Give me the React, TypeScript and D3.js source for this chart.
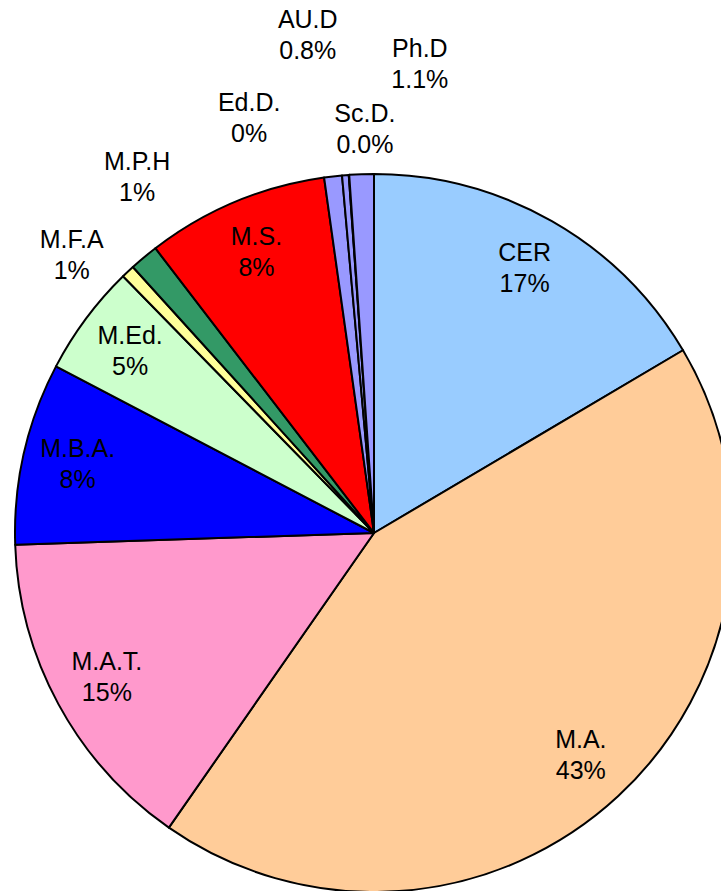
import React from 'react';
import * as d3 from 'd3';

// Degree shares (percent of the whole)
const categories = ['CER', 'M.A.', 'M.A.T.', 'M.B.A.', 'M.Ed.', 'M.F.A', 'M.P.H', 'M.S.', 'AU.D', 'Ed.D.', 'Sc.D.', 'Ph.D'];
const values = [16.5, 43.18, 14.8, 8.2, 5.0, 0.6, 1.3, 8.2, 0.8, 0.3, 0.02, 1.1];
const pctLabels = ['17%', '43%', '15%', '8%', '5%', '1%', '1%', '8%', '0.8%', '0%', '0.0%', '1.1%'];
const colors = ['#99CCFF', '#FFCC99', '#FF99CC', '#0000FF', '#CCFFCC', '#FFFF99', '#339966', '#FF0000', '#9999FF', '#9999FF', '#9999FF', '#9999FF'];

// Labels pushed outside the pie: [radius, angle in degrees clockwise from 12 o'clock]
const outsideLabels: Record<string, [number, number]> = {
  'M.F.A': [410, 312.5],
  'M.P.H': [427, 326.3],
  'Ed.D.': [432, 343.2],
  'Sc.D.': [403, 358.7],
  'AU.D': [501, 352.4],
  'Ph.D': [470, 5.6],
};

const width = 721;
const height = 891;
const cx = 374;
const cy = 533;
const radius = 359;
const labelRadius = 304;

export default function App() {
  const pie = d3.pie<number>().sort(null).value((d) => d);
  const arcs = pie(values);
  const arc = d3.arc<d3.PieArcDatum<number>>().innerRadius(0).outerRadius(radius);
  const labelArc = d3.arc<d3.PieArcDatum<number>>().innerRadius(labelRadius).outerRadius(labelRadius);

  return (
    <svg width={width} height={height} style={{ position: 'absolute', left: 0, top: 0 }}>
      <g transform={`translate(${cx},${cy})`}>
        {arcs.map((a, i) => (
          <path key={i} d={arc(a) || ''} fill={colors[i]} stroke="#000" strokeWidth={2} strokeLinejoin="round" />
        ))}
        {arcs.map((a, i) => {
          const name = categories[i];
          let x: number, y: number;
          if (outsideLabels[name]) {
            const [r, deg] = outsideLabels[name];
            const t = (deg * Math.PI) / 180;
            x = r * Math.sin(t);
            y = -r * Math.cos(t);
          } else {
            [x, y] = labelArc.centroid(a);
          }
          return (
            <text key={'l' + i} x={x} y={y} textAnchor="middle" fontFamily="'Liberation Sans', Arial, sans-serif" fontSize={25} fill="#000">
              <tspan x={x} dy={-8}>{name}</tspan>
              <tspan x={x} dy={31}>{pctLabels[i]}</tspan>
            </text>
          );
        })}
      </g>
    </svg>
  );
}
